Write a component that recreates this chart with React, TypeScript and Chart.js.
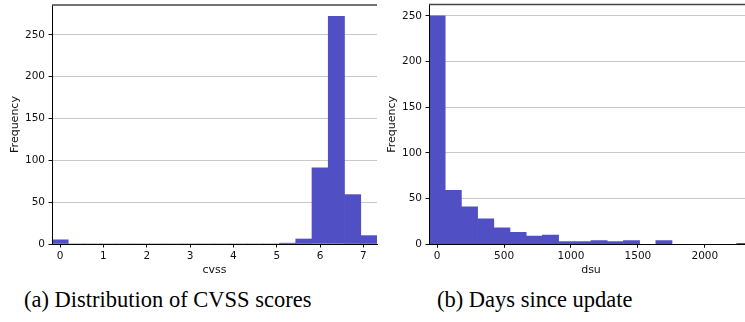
import React, { useEffect, useRef } from "react";
import { Chart, registerables } from "chart.js";

Chart.register(...registerables);

// ---- data ----
const cvssBinCenters = [0, 0.375, 0.75, 1.125, 1.5, 1.875, 2.25, 2.625, 3, 3.375, 3.75, 4.125, 4.5, 4.875, 5.25, 5.625, 6, 6.375, 6.75, 7.125];
const cvssCounts = [5, 0, 0, 0, 0, 0, 0, 0, 0, 0, 0, 0, 0, 0, 1, 6, 91, 272, 59, 10];
const cvssTicks = [0, 1, 2, 3, 4, 5, 6, 7];
const cvssRange = [-0.1875, 7.3125];
const cvssYMax = 285.6;

const dsuBinCenters = [0, 121, 242, 363, 484, 605, 726, 847, 968, 1089, 1210, 1331, 1452, 1573, 1694, 1815, 1936, 2057, 2178, 2299];
const dsuCounts = [250, 59, 41, 28, 18, 13, 9, 10, 3, 3, 4, 3, 4, 0, 4, 0, 0, 0, 0, 1];
const dsuTicks = [0, 500, 1000, 1500, 2000];
const dsuRange = [-60.5, 2359.5];
const dsuYMax = 262.5;

const freqTicks = [0, 50, 100, 150, 200, 250];

const captionA = "(a) Distribution of CVSS scores";
const captionB = "(b) Days since update";

// ---- styles ----
const BAR_COLOR = "#5050c4";
const TEXT_COLOR = "#111";
const GRID_COLOR = "#c8c8c8";
const SANS = "'DejaVu Sans', sans-serif";

const topSpine = {
  id: "topSpine",
  afterDraw(chart: any) {
    const { ctx, chartArea } = chart;
    ctx.save();
    ctx.strokeStyle = "#444";
    ctx.lineWidth = 1.3;
    ctx.beginPath();
    ctx.moveTo(chartArea.left, chartArea.top);
    ctx.lineTo(chartArea.right, chartArea.top);
    ctx.stroke();
    ctx.restore();
  },
};

type HistProps = {
  centers: number[];
  counts: number[];
  xTicks: number[];
  xRange: number[];
  yMax: number;
  xLabel: string;
  left: number;
  width: number;
  height: number;
  yAxisWidth: number;
  xAxisHeight: number;
  padTop: number;
  padRight: number;
  yTitlePad: number;
};

function Hist(p: HistProps) {
  const ref = useRef<HTMLCanvasElement | null>(null);
  useEffect(() => {
    if (!ref.current) return;
    const tickFont = { family: SANS, size: 10.5 };
    const titleFont = { family: SANS, size: 11 };
    const chart = new Chart(ref.current, {
      type: "bar",
      data: {
        datasets: [
          {
            data: p.centers.map((c, i) => ({ x: c, y: p.counts[i] })),
            backgroundColor: BAR_COLOR,
            borderWidth: 0,
            barPercentage: 1,
            categoryPercentage: 1,
          },
        ],
      },
      plugins: [topSpine],
      options: {
        animation: false,
        responsive: false,
        maintainAspectRatio: false,
        devicePixelRatio: 1,
        layout: { padding: { top: p.padTop, right: p.padRight, bottom: 0, left: 0 } },
        plugins: { legend: { display: false }, tooltip: { enabled: false } },
        scales: {
          x: {
            type: "linear",
            min: p.xRange[0],
            max: p.xRange[1],
            offset: false,
            grid: {
              display: true,
              drawOnChartArea: false,
              drawTicks: true,
              tickLength: 3.5,
              tickColor: TEXT_COLOR,
              offset: false,
            },
            border: { display: true, color: "#000", width: 1, z: 1 },
            ticks: {
              font: tickFont,
              color: TEXT_COLOR,
              padding: 2,
              autoSkip: false,
              maxRotation: 0,
              callback: (v: any) => String(v),
            },
            title: {
              display: true,
              text: p.xLabel,
              font: titleFont,
              color: TEXT_COLOR,
              padding: { top: 0, bottom: 3 },
            },
            afterBuildTicks: (s: any) => {
              s.ticks = p.xTicks.map((v) => ({ value: v }));
            },
            afterFit: (s: any) => {
              s.height = p.xAxisHeight;
              s.paddingLeft = 0;
              s.paddingRight = 0;
            },
          },
          y: {
            type: "linear",
            min: 0,
            max: p.yMax,
            grid: {
              color: GRID_COLOR,
              tickColor: TEXT_COLOR,
              tickLength: 3.5,
              lineWidth: 1,
            },
            border: { display: true, color: "#000", width: 1, z: 1 },
            ticks: {
              font: tickFont,
              color: TEXT_COLOR,
              padding: 3.5,
              callback: (v: any) => String(v),
            },
            title: {
              display: true,
              text: "Frequency",
              font: titleFont,
              color: TEXT_COLOR,
              padding: { top: p.yTitlePad, bottom: 0 },
            },
            afterBuildTicks: (s: any) => {
              s.ticks = freqTicks.map((v) => ({ value: v }));
            },
            afterFit: (s: any) => {
              s.width = p.yAxisWidth;
              s.paddingTop = 0;
              s.paddingBottom = 0;
            },
          },
        },
      } as any,
    });
    return () => chart.destroy();
  }, []);
  return (
    <canvas
      ref={ref}
      width={p.width}
      height={p.height}
      style={{ position: "absolute", left: p.left, top: 0, width: p.width, height: p.height }}
    />
  );
}

const captionStyle: React.CSSProperties = {
  position: "absolute",
  top: 289,
  fontFamily: "'Liberation Serif', 'Times New Roman', serif",
  fontSize: 22.5,
  lineHeight: "22.5px",
  color: "#000",
  whiteSpace: "nowrap",
};

export default function App() {
  return (
    <div
      style={{
        position: "fixed",
        left: 0,
        top: 0,
        width: 745,
        height: 322,
        overflow: "hidden",
        background: "#fff",
      }}
    >
      <Hist
        centers={cvssBinCenters}
        counts={cvssCounts}
        xTicks={cvssTicks}
        xRange={cvssRange}
        yMax={cvssYMax}
        xLabel="cvss"
        left={0}
        width={380}
        height={280}
        yAxisWidth={52}
        xAxisHeight={36}
        padTop={5}
        padRight={3}
        yTitlePad={8.4}
      />
      <Hist
        centers={dsuBinCenters}
        counts={dsuCounts}
        xTicks={dsuTicks}
        xRange={dsuRange}
        yMax={dsuYMax}
        xLabel="dsu"
        left={380}
        width={380}
        height={280}
        yAxisWidth={49}
        xAxisHeight={35.7}
        padTop={4.5}
        padRight={7}
        yTitlePad={5.1}
      />
      <div style={{ ...captionStyle, left: 24 }}>{captionA}</div>
      <div style={{ ...captionStyle, left: 437 }}>{captionB}</div>
    </div>
  );
}
